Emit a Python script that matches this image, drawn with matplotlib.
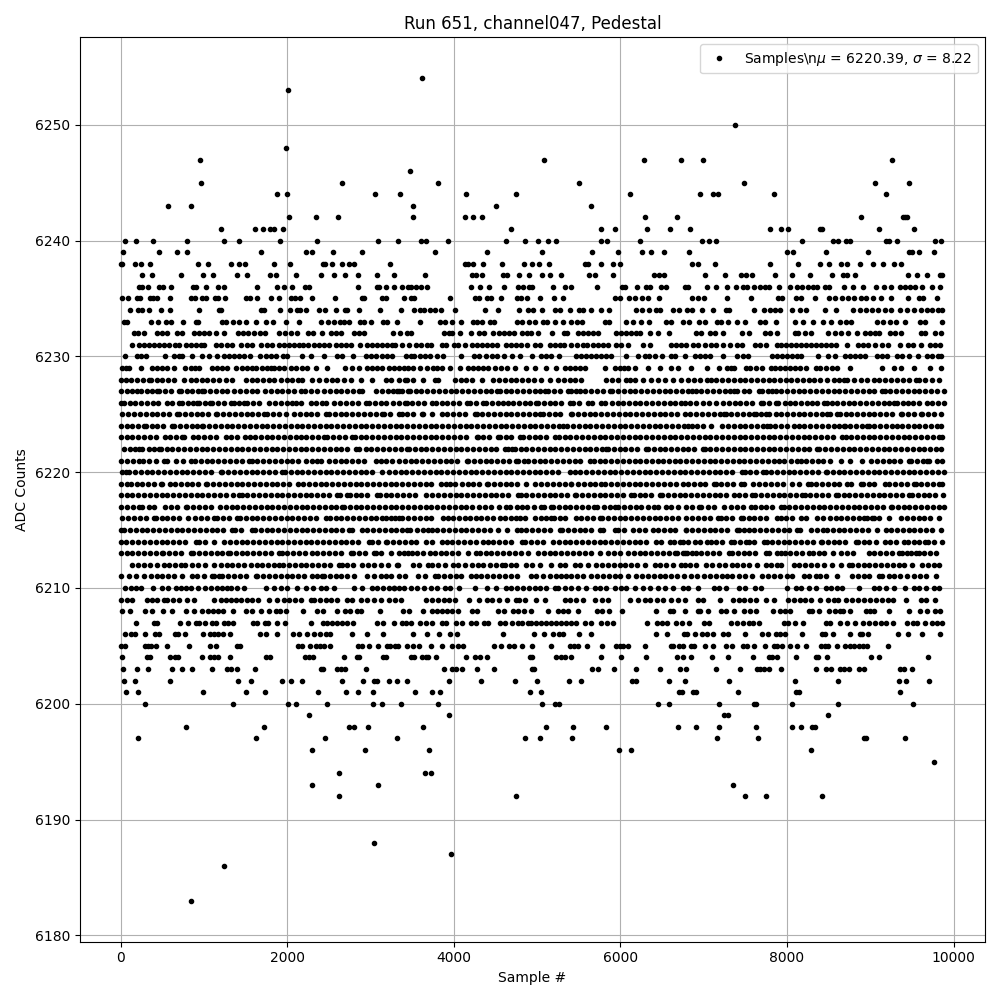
import matplotlib
matplotlib.use("Agg")
import matplotlib.pyplot as plt

# sample numbers at each ADC level
s6254 = [3620]
s6253 = [2012]
s6250 = [7380]
s6248 = [1988]
s6247 = [956, 5088, 6288, 6732, 6996, 9264]
s6246 = [3470]
s6245 = [968, 2660, 3812, 5508, 7488, 9060, 9468]
s6244 = [1880, 2000, 3056, 3356, 4148, 4748, 6120, 6960, 7116, 7176, 7848, 9192]
s6243 = [572, 848, 3512, 4508, 5652]
s6242 = [2024, 2348, 2612, 3512, 4136, 4232, 4340, 6300, 6684, 8892, 9396, 9420, 9444]
s6241 = [1208, 1616, 1712, 1796, 1836, 1952, 4688, 5772, 5940, 6324, 6600, 6840, 7800, 7932, 8016, 8400, 8424, 9108, 9528]
s6240 = [56, 188, 392, 800, 1244, 1424, 1916, 2360, 3092, 3332, 3608, 3668, 3932, 4628, 4856, 5016, 5136, 5232, 5772, 5844, 6240, 6984, 7068, 7152, 8184, 8556, 8616, 8712, 8760, 9192, 9228, 9324, 9780, 9852]
s6239 = [32, 464, 680, 800, 1688, 2228, 2300, 2552, 2900, 3776, 4400, 5064, 5664, 5976, 6264, 6372, 6528, 6828, 8004, 8076, 8472, 8976, 9468, 9504, 9588, 9768]
s6238 = [0, 12, 176, 248, 356, 932, 1052, 1328, 1424, 1496, 1844, 2036, 2432, 2456, 2540, 2660, 2744, 2804, 3236, 4136, 4172, 4232, 4352, 4580, 4844, 4944, 5028, 5148, 5580, 5616, 5772, 5916, 6000, 6864, 6936, 7140, 7800, 8136, 8400, 8508, 8652, 8724, 8880, 9036, 9156, 9288, 9372]
s6237 = [260, 380, 728, 992, 1112, 1400, 1520, 1796, 1868, 2108, 2408, 2564, 2696, 2852, 3080, 3284, 3656, 4220, 4260, 4340, 4592, 4640, 4784, 4904, 5064, 5160, 5292, 5628, 5700, 5916, 6408, 6468, 6528, 7020, 7260, 7452, 7512, 7584, 7860, 8064, 8280, 8544, 8676, 8724, 8820, 9456, 9564, 9684, 9840, 9864]
s6236 = [224, 260, 332, 464, 512, 608, 872, 908, 1028, 1172, 1244, 1640, 1880, 1964, 2060, 2216, 2264, 2852, 3080, 3104, 3188, 3284, 3380, 3452, 3488, 3548, 3608, 3680, 4208, 4316, 4424, 4604, 4772, 4832, 4904, 4940, 5196, 5340, 5412, 5724, 6024, 6060, 6204, 6312, 6360, 6492, 6552, 6780, 6816, 7044, 7152, 7284, 7392, 7476, 7524, 7608, 7680, 7740, 7788, 7908, 8040, 8124, 8184, 8256, 8316, 8364, 8460, 8508, 8688, 8796, 8916, 9072, 9168, 9252, 9360, 9420, 9480, 9540, 9624, 9744, 9840]
s6235 = [20, 92, 200, 236, 356, 392, 440, 596, 848, 896, 980, 1028, 1136, 1172, 1256, 1508, 1556, 1640, 1808, 1904, 2048, 2096, 2156, 2300, 2576, 2900, 2924, 3140, 3188, 3404, 3488, 3524, 3956, 4256, 4304, 4400, 4448, 4568, 4760, 4808, 4880, 5040, 5208, 5316, 5940, 6000, 6108, 6180, 6264, 6336, 6468, 6864, 6936, 7008, 7280, 7572, 7896, 7944, 8112, 8172, 8340, 8508, 8580, 8664, 8736, 8808, 8892, 8952, 9036, 9132, 9252, 9456, 9588, 9636, 9804]
s6234 = [116, 212, 260, 344, 488, 596, 944, 1184, 1208, 1688, 1724, 1916, 2036, 2120, 2156, 2228, 2384, 2456, 2588, 2696, 2720, 2864, 3116, 3368, 3524, 3596, 3644, 3716, 3776, 3848, 4016, 4376, 4532, 4784, 4892, 4956, 5064, 5220, 5280, 5400, 5508, 5556, 5652, 5772, 5868, 6192, 6264, 6348, 6432, 6480, 6636, 6708, 6804, 6864, 6984, 7116, 7272, 7308, 7608, 7728, 7800, 7860, 7920, 8064, 8160, 8232, 8460, 8592, 8796, 8880, 8952, 9024, 9096, 9180, 9252, 9360, 9444, 9528, 9612, 9684, 9744, 9816, 9864]
s6233 = [44, 80, 368, 452, 548, 608, 752, 908, 932, 1220, 1268, 1352, 1424, 1508, 1628, 1748, 1832, 1988, 2144, 2408, 2492, 2564, 2636, 2684, 2744, 2876, 2924, 3008, 3152, 3200, 3320, 3592, 3836, 3896, 3980, 4088, 4228, 4280, 4340, 4436, 4480, 4760, 4820, 4908, 4976, 5076, 5124, 5220, 5316, 5412, 5484, 5544, 5820, 5868, 6072, 6156, 6252, 6348, 6552, 6612, 6756, 6828, 6948, 7020, 7164, 7212, 7296, 7404, 7500, 7680, 7740, 7872, 8100, 8196, 8316, 8436, 8532, 8640, 8712, 8772, 9084, 9156, 9240, 9312, 9420, 9600, 9660, 9864]
s6232 = [160, 212, 276, 440, 500, 560, 680, 732, 880, 940, 1000, 1060, 1148, 1244, 1412, 1468, 1532, 1596, 1668, 1732, 1900, 1968, 2040, 2120, 2252, 2308, 2420, 2520, 2580, 2640, 2800, 2860, 2920, 3272, 3356, 3440, 3480, 3880, 3940, 3980, 4076, 4208, 4300, 4360, 4472, 4540, 4600, 4660, 4720, 4820, 4880, 4932, 5016, 5180, 5324, 5364, 5492, 5552, 5612, 5672, 5732, 5952, 6012, 6072, 6132, 6192, 6232, 6352, 6452, 6588, 6912, 6972, 7072, 7132, 7228, 7464, 7544, 7732, 7792, 7884, 8092, 8132, 8220, 8292, 8492, 8572, 8652, 8732, 8844, 8932, 8992, 9052, 9100, 9232, 9292, 9364, 9612, 9652, 9780, 9852]
s6231 = [132, 220, 280, 340, 400, 460, 520, 580, 652, 700, 788, 840, 900, 960, 1000, 1148, 1200, 1280, 1340, 1440, 1520, 1580, 1680, 1760, 1820, 1900, 1960, 2020, 2080, 2140, 2188, 2252, 2320, 2380, 2440, 2500, 2580, 2640, 2700, 2760, 2868, 2960, 3020, 3080, 3140, 3200, 3260, 3296, 3380, 3460, 3540, 3600, 3680, 3728, 3860, 3900, 4000, 4052, 4128, 4220, 4280, 4340, 4400, 4460, 4520, 4620, 4680, 4740, 4800, 4880, 4972, 5032, 5152, 5212, 5272, 5324, 5412, 5480, 5552, 5604, 5672, 5732, 5792, 5852, 5952, 6012, 6092, 6272, 6352, 6604, 6672, 6732, 6792, 6872, 6932, 7012, 7092, 7152, 7232, 7312, 7404, 7464, 7620, 7680, 7752, 7884, 7932, 7992, 8052, 8112, 8172, 8232, 8292, 8352, 8412, 8472, 8532, 8592, 8724, 8852, 8912, 8972, 9052, 9144, 9212, 9360, 9452, 9512, 9612, 9712, 9772, 9840]
s6230 = [56, 200, 240, 300, 528, 640, 700, 740, 860, 980, 1064, 1160, 1240, 1300, 1360, 1420, 1480, 1552, 1676, 1740, 1800, 1868, 1952, 2000, 2180, 2288, 2440, 2600, 2660, 2788, 2940, 3000, 3060, 3140, 3200, 3260, 3420, 3480, 3520, 3592, 3652, 3708, 3800, 3872, 4088, 4244, 4300, 4380, 4460, 4520, 4600, 4700, 4788, 4940, 5052, 5112, 5172, 5260, 5472, 5532, 5592, 5652, 5712, 5772, 5832, 5892, 6072, 6216, 6300, 6348, 6420, 6504, 6612, 6660, 6780, 6892, 6952, 7012, 7072, 7236, 7404, 7472, 7532, 7824, 7884, 7944, 8004, 8064, 8124, 8172, 8376, 8496, 8580, 8700, 8760, 8820, 8880, 8940, 9084, 9144, 9204, 9324, 9384, 9468, 9576, 9684, 9744, 9816, 9852]
s6229 = [20, 60, 100, 240, 380, 440, 500, 560, 640, 772, 840, 890, 940, 1100, 1160, 1220, 1280, 1388, 1450, 1510, 1570, 1620, 1700, 1750, 1800, 1840, 1900, 1960, 2040, 2100, 2170, 2240, 2348, 2480, 2688, 2780, 2860, 2960, 3020, 3080, 3140, 3220, 3280, 3340, 3400, 3452, 3512, 3592, 3672, 3752, 3800, 3852, 3952, 4072, 4172, 4230, 4292, 4352, 4412, 4492, 4560, 4632, 4732, 4872, 4972, 5112, 5224, 5332, 5390, 5450, 5510, 5572, 5812, 5932, 5990, 6040, 6092, 6172, 6332, 6472, 6612, 6692, 6844, 7036, 7184, 7284, 7324, 7364, 7504, 7560, 7624, 7696, 7804, 7860, 7920, 7980, 8040, 8100, 8160, 8224, 8344, 8400, 8470, 8540, 8604, 8756, 9144, 9284, 9364, 9524, 9712, 9844]
s6228 = [0, 60, 125, 190, 270, 340, 360, 430, 500, 570, 640, 760, 840, 905, 975, 1040, 1110, 1180, 1260, 1340, 1500, 1570, 1640, 1710, 1780, 1840, 1920, 1990, 2060, 2125, 2180, 2300, 2380, 2460, 2540, 2600, 2680, 2760, 2880, 3020, 3180, 3250, 3340, 3410, 3432, 3512, 3632, 3772, 3812, 4012, 4080, 4150, 4212, 4332, 4472, 4540, 4610, 4680, 4750, 4820, 4890, 4960, 5052, 5152, 5252, 5320, 5390, 5460, 5532, 5832, 5900, 5972, 6072, 6120, 6172, 6272, 6372, 6450, 6532, 6632, 6732, 6812, 6884, 6960, 7044, 7084, 7150, 7220, 7290, 7360, 7430, 7500, 7570, 7640, 7710, 7780, 7850, 7920, 7985, 8044, 8124, 8190, 8260, 8330, 8400, 8480, 8564, 8624, 8684, 8724, 8800, 8884, 8964, 9044, 9110, 9180, 9250, 9320, 9390, 9470, 9544, 9584, 9660, 9740, 9824]
s6227 = [0, 70, 135, 200, 240, 310, 375, 440, 460, 530, 600, 700, 720, 790, 860, 925, 980, 1000, 1070, 1140, 1210, 1280, 1360, 1430, 1500, 1580, 1640, 1732, 1800, 1880, 1940, 2010, 2085, 2160, 2212, 2290, 2360, 2440, 2510, 2580, 2650, 2720, 2790, 2860, 2900, 3060, 3140, 3210, 3270, 3340, 3312, 3380, 3452, 3472, 3540, 3610, 3680, 3750, 3820, 3890, 3960, 4030, 4100, 4170, 4240, 4310, 4380, 4450, 4512, 4552, 4620, 4690, 4760, 4830, 4900, 4970, 5040, 5092, 5132, 5200, 5270, 5372, 5412, 5472, 5512, 5580, 5650, 5720, 5790, 5872, 5900, 5970, 6040, 6110, 6180, 6250, 6320, 6390, 6460, 6530, 6600, 6670, 6740, 6812, 6864, 6904, 6970, 7040, 7110, 7180, 7250, 7320, 7364, 7404, 7480, 7550, 7664, 7704, 7770, 7824, 7864, 7930, 8000, 8070, 8140, 8210, 8280, 8350, 8420, 8490, 8560, 8630, 8700, 8770, 8840, 8910, 8980, 9050, 9144, 9172, 9240, 9310, 9380, 9450, 9520, 9590, 9660, 9730, 9800, 9884]
s6226 = [0, 40, 110, 175, 245, 315, 385, 452, 560, 620, 700, 740, 810, 870, 920, 940, 1010, 1068, 1100, 1170, 1240, 1320, 1360, 1420, 1480, 1520, 1590, 1660, 1780, 1850, 1920, 1990, 2060, 2100, 2160, 2280, 2340, 2420, 2468, 2560, 2630, 2700, 2780, 2852, 2940, 2980, 3050, 3120, 3190, 3270, 3340, 3412, 3432, 3500, 3570, 3640, 3732, 3780, 3852, 3920, 3990, 4060, 4152, 4192, 4260, 4352, 4380, 4460, 4532, 4592, 4644, 4710, 4780, 4850, 4920, 4992, 5012, 5080, 5150, 5220, 5290, 5392, 5432, 5500, 5612, 5660, 5772, 5812, 5900, 5972, 6032, 6100, 6170, 6240, 6310, 6380, 6450, 6520, 6590, 6660, 6732, 6772, 6840, 6912, 6990, 7064, 7144, 7232, 7304, 7370, 7440, 7510, 7580, 7684, 7716, 7790, 7864, 7896, 7976, 8036, 8100, 8170, 8240, 8304, 8364, 8444, 8484, 8544, 8604, 8670, 8740, 8810, 8880, 8950, 9020, 9090, 9160, 9230, 9284, 9316, 9390, 9450, 9516, 9584, 9676, 9740, 9810, 9884]
s6225 = [20, 92, 160, 230, 300, 370, 440, 510, 580, 680, 700, 770, 840, 910, 980, 1050, 1140, 1160, 1230, 1300, 1370, 1440, 1510, 1580, 1650, 1720, 1760, 1830, 1900, 1980, 2080, 2150, 2220, 2290, 2360, 2460, 2500, 2570, 2640, 2710, 2780, 2850, 2920, 2990, 3060, 3140, 3160, 3230, 3340, 3372, 3440, 3510, 3612, 3632, 3732, 3852, 3920, 3990, 4060, 4130, 4252, 4272, 4340, 4410, 4480, 4550, 4620, 4690, 4760, 4830, 4900, 4970, 5032, 5072, 5140, 5210, 5280, 5412, 5420, 5490, 5560, 5630, 5700, 5770, 5840, 5910, 5980, 6050, 6120, 6190, 6260, 6330, 6400, 6470, 6540, 6610, 6680, 6772, 6840, 6910, 6980, 7050, 7120, 7190, 7244, 7264, 7330, 7400, 7470, 7540, 7604, 7624, 7690, 7744, 7784, 7864, 7930, 8000, 8070, 8140, 8210, 8280, 8350, 8420, 8484, 8516, 8604, 8636, 8704, 8770, 8840, 8910, 8980, 9050, 9120, 9190, 9260, 9364, 9384, 9450, 9520, 9604, 9624, 9690, 9760, 9844]
s6224 = [0, 70, 140, 210, 280, 300, 370, 440, 510, 620, 640, 710, 780, 850, 920, 980, 990, 1060, 1130, 1200, 1270, 1340, 1410, 1480, 1550, 1620, 1690, 1760, 1830, 1900, 1970, 2040, 2110, 2180, 2250, 2320, 2390, 2460, 2530, 2600, 2670, 2740, 2810, 2880, 2950, 3020, 3090, 3160, 3230, 3300, 3370, 3440, 3510, 3580, 3650, 3720, 3790, 3860, 3930, 4000, 4070, 4140, 4210, 4280, 4350, 4420, 4490, 4560, 4630, 4700, 4770, 4840, 4910, 4980, 5050, 5120, 5190, 5260, 5312, 5364, 5430, 5500, 5570, 5640, 5710, 5780, 5850, 5920, 5990, 6060, 6130, 6200, 6270, 6340, 6410, 6480, 6550, 6620, 6690, 6760, 6812, 6860, 6924, 6996, 7084, 7224, 7290, 7360, 7430, 7500, 7570, 7640, 7710, 7764, 7796, 7860, 7930, 8000, 8084, 8144, 8210, 8280, 8350, 8420, 8490, 8560, 8630, 8684, 8696, 8760, 8830, 8900, 8964, 8984, 9050, 9120, 9190, 9264, 9316, 9380, 9450, 9520, 9590, 9660, 9730, 9800, 9844]
s6223 = [0, 70, 140, 210, 280, 350, 420, 532, 588, 660, 740, 760, 868, 932, 1000, 1070, 1140, 1260, 1320, 1400, 1492, 1548, 1612, 1680, 1750, 1820, 1890, 1960, 2030, 2100, 2160, 2228, 2300, 2370, 2440, 2480, 2550, 2620, 2690, 2780, 2812, 2880, 2950, 3020, 3090, 3160, 3230, 3300, 3370, 3440, 3510, 3580, 3650, 3720, 3790, 3860, 3930, 4000, 4070, 4140, 4272, 4284, 4350, 4420, 4532, 4552, 4620, 4690, 4792, 4832, 4900, 4970, 5040, 5110, 5212, 5260, 5330, 5400, 5470, 5540, 5610, 5680, 5750, 5820, 5890, 5960, 6030, 6100, 6170, 6240, 6310, 6380, 6450, 6520, 6590, 6660, 6730, 6800, 6870, 6940, 7010, 7080, 7150, 7220, 7290, 7360, 7430, 7500, 7570, 7640, 7710, 7780, 7850, 7920, 7990, 8060, 8130, 8200, 8270, 8340, 8410, 8480, 8550, 8664, 8704, 8770, 8840, 8910, 8980, 9050, 9120, 9190, 9260, 9330, 9400, 9470, 9540, 9610, 9680, 9750, 9820, 9864]
s6222 = [40, 110, 170, 220, 260, 340, 400, 460, 484, 550, 620, 690, 760, 830, 900, 970, 1040, 1110, 1180, 1250, 1320, 1390, 1460, 1530, 1600, 1670, 1740, 1810, 1880, 1950, 2020, 2090, 2160, 2230, 2300, 2370, 2440, 2510, 2580, 2650, 2720, 2820, 2860, 2940, 3010, 3080, 3150, 3220, 3290, 3360, 3432, 3460, 3530, 3600, 3670, 3740, 3810, 3880, 3950, 4020, 4090, 4160, 4230, 4300, 4370, 4440, 4510, 4612, 4652, 4700, 4732, 4800, 4870, 4940, 5010, 5080, 5150, 5220, 5290, 5360, 5430, 5500, 5570, 5640, 5710, 5780, 5832, 5852, 5920, 5990, 6060, 6130, 6200, 6312, 6332, 6400, 6470, 6540, 6610, 6680, 6750, 6812, 6880, 6996, 7012, 7080, 7150, 7220, 7290, 7360, 7430, 7500, 7570, 7640, 7710, 7780, 7850, 7920, 7990, 8060, 8130, 8200, 8270, 8364, 8388, 8460, 8530, 8600, 8670, 8740, 8810, 8880, 8950, 9020, 9090, 9160, 9230, 9300, 9370, 9440, 9510, 9580, 9650, 9720, 9790, 9844]
s6221 = [0, 70, 150, 220, 268, 340, 420, 520, 552, 668, 750, 840, 892, 960, 1030, 1100, 1170, 1240, 1310, 1380, 1450, 1540, 1572, 1640, 1710, 1780, 1850, 1920, 1990, 2060, 2130, 2220, 2300, 2360, 2400, 2500, 2570, 2640, 2710, 2780, 2850, 2920, 3060, 3120, 3190, 3260, 3340, 3410, 3480, 3550, 3620, 3690, 3760, 3830, 3900, 3970, 4040, 4152, 4172, 4240, 4310, 4380, 4450, 4520, 4590, 4660, 4740, 4764, 4844, 4892, 4960, 5030, 5100, 5170, 5240, 5310, 5380, 5450, 5520, 5632, 5684, 5750, 5820, 5890, 5960, 6030, 6100, 6170, 6240, 6310, 6380, 6452, 6512, 6580, 6650, 6720, 6790, 6860, 6930, 7000, 7070, 7140, 7210, 7280, 7350, 7420, 7490, 7560, 7630, 7700, 7770, 7840, 7900, 7964, 8044, 8116, 8164, 8230, 8300, 8370, 8436, 8516, 8644, 8756, 8904, 9012, 9080, 9150, 9220, 9290, 9360, 9464, 9492, 9560, 9630, 9684, 9704, 9796, 9856]
s6220 = [20, 60, 100, 170, 240, 310, 380, 450, 520, 590, 660, 730, 800, 870, 940, 1010, 1080, 1200, 1220, 1290, 1360, 1430, 1500, 1570, 1640, 1710, 1780, 1850, 1940, 1972, 2040, 2110, 2180, 2250, 2320, 2390, 2460, 2530, 2600, 2670, 2740, 2810, 2880, 2950, 3020, 3140, 3220, 3290, 3360, 3430, 3500, 3570, 3640, 3710, 3780, 3850, 3920, 3990, 4060, 4130, 4200, 4270, 4340, 4410, 4480, 4550, 4620, 4690, 4760, 4830, 4900, 4970, 5040, 5110, 5180, 5250, 5392, 5452, 5520, 5590, 5660, 5730, 5800, 5870, 5940, 6010, 6080, 6150, 6220, 6290, 6360, 6430, 6500, 6570, 6640, 6710, 6780, 6850, 6920, 6990, 7060, 7130, 7200, 7270, 7340, 7464, 7492, 7560, 7630, 7716, 7744, 7810, 7880, 7950, 8020, 8090, 8160, 8230, 8300, 8370, 8464, 8484, 8550, 8620, 8690, 8760, 8830, 8900, 8970, 9040, 9110, 9180, 9250, 9320, 9390, 9460, 9530, 9600, 9670, 9740, 9810, 9884]
s6219 = [0, 80, 120, 190, 260, 330, 400, 480, 500, 588, 652, 720, 790, 860, 930, 1020, 1040, 1110, 1180, 1250, 1320, 1390, 1460, 1530, 1600, 1670, 1740, 1810, 1880, 1950, 2020, 2132, 2188, 2260, 2330, 2400, 2470, 2540, 2610, 2680, 2750, 2820, 2890, 2960, 3030, 3100, 3170, 3240, 3310, 3380, 3450, 3520, 3590, 3660, 3730, 3844, 3900, 3952, 4012, 4092, 4164, 4230, 4300, 4392, 4412, 4480, 4550, 4620, 4690, 4760, 4872, 4980, 5050, 5120, 5190, 5260, 5330, 5404, 5412, 5492, 5560, 5630, 5700, 5772, 5820, 5890, 5960, 6030, 6100, 6170, 6240, 6310, 6380, 6450, 6520, 6590, 6672, 6752, 6812, 6880, 6950, 7020, 7124, 7144, 7210, 7280, 7350, 7444, 7484, 7596, 7668, 7740, 7810, 7880, 7950, 8064, 8144, 8252, 8284, 8350, 8420, 8490, 8560, 8630, 8724, 8772, 8884, 8908, 8980, 9050, 9172, 9228, 9300, 9370, 9440, 9524, 9544, 9610, 9680, 9750, 9820, 9864]
s6218 = [0, 70, 140, 210, 280, 350, 420, 490, 560, 630, 700, 770, 840, 910, 980, 1050, 1120, 1190, 1260, 1348, 1420, 1452, 1520, 1590, 1660, 1730, 1800, 1870, 1940, 2010, 2080, 2150, 2220, 2290, 2360, 2430, 2500, 2600, 2628, 2720, 2748, 2820, 2890, 2960, 3080, 3108, 3180, 3250, 3320, 3390, 3460, 3530, 3660, 3740, 3810, 3880, 3950, 4020, 4090, 4160, 4230, 4300, 4370, 4440, 4510, 4580, 4650, 4772, 4800, 4870, 4940, 5010, 5080, 5150, 5220, 5290, 5360, 5452, 5472, 5540, 5610, 5680, 5750, 5820, 5890, 5960, 6030, 6132, 6164, 6230, 6300, 6370, 6472, 6500, 6570, 6640, 6710, 6780, 6850, 6920, 6990, 7060, 7130, 7200, 7270, 7364, 7428, 7500, 7584, 7620, 7690, 7760, 7830, 7900, 7970, 8040, 8110, 8184, 8212, 8280, 8350, 8420, 8490, 8584, 8616, 8680, 8750, 8820, 8890, 8960, 9030, 9100, 9170, 9240, 9310, 9380, 9464, 9496, 9570, 9640, 9710, 9780, 9876]
s6217 = [0, 70, 150, 220, 252, 340, 400, 532, 600, 670, 788, 800, 870, 940, 1010, 1080, 1188, 1260, 1330, 1400, 1470, 1540, 1610, 1680, 1750, 1820, 1890, 1960, 2030, 2100, 2170, 2240, 2310, 2380, 2450, 2520, 2590, 2652, 2680, 2750, 2820, 2890, 2960, 3030, 3100, 3170, 3240, 3310, 3380, 3450, 3520, 3590, 3660, 3730, 3800, 3870, 3940, 4010, 4080, 4150, 4220, 4300, 4372, 4444, 4540, 4620, 4672, 4752, 4820, 4884, 4960, 5052, 5084, 5172, 5192, 5260, 5330, 5400, 5470, 5540, 5610, 5684, 5724, 5800, 5870, 5932, 5972, 6040, 6112, 6192, 6252, 6332, 6400, 6452, 6552, 6612, 6692, 6792, 6860, 6944, 6972, 7050, 7120, 7244, 7332, 7400, 7470, 7572, 7612, 7684, 7750, 7820, 7924, 7964, 8030, 8100, 8170, 8240, 8310, 8380, 8450, 8520, 8590, 8660, 8730, 8800, 8870, 8940, 9010, 9080, 9150, 9244, 9264, 9330, 9400, 9470, 9540, 9610, 9680, 9750, 9820, 9884]
s6216 = [20, 90, 160, 230, 300, 400, 420, 490, 560, 630, 700, 812, 892, 960, 1040, 1120, 1160, 1230, 1300, 1400, 1428, 1500, 1570, 1640, 1710, 1780, 1850, 1920, 1990, 2060, 2130, 2200, 2270, 2340, 2460, 2508, 2580, 2650, 2720, 2790, 2860, 2930, 3000, 3070, 3140, 3180, 3250, 3340, 3292, 3380, 3450, 3520, 3590, 3660, 3730, 3872, 3924, 3990, 4060, 4130, 4192, 4260, 4330, 4400, 4470, 4552, 4612, 4684, 4740, 4792, 4860, 4972, 5044, 5110, 5172, 5204, 5270, 5340, 5472, 5524, 5600, 5670, 5752, 5780, 5850, 5920, 5990, 6060, 6130, 6200, 6270, 6340, 6410, 6480, 6550, 6620, 6690, 6792, 6860, 6932, 7000, 7070, 7172, 7204, 7264, 7340, 7444, 7476, 7540, 7610, 7680, 7750, 7884, 7924, 7990, 8060, 8164, 8224, 8356, 8430, 8516, 8584, 8650, 8720, 8790, 8860, 8924, 8956, 9024, 9044, 9110, 9224, 9372, 9440, 9510, 9580, 9650, 9720, 9824]
s6215 = [0, 40, 110, 180, 250, 320, 390, 460, 530, 600, 670, 740, 810, 880, 950, 1020, 1090, 1160, 1230, 1340, 1372, 1440, 1580, 1612, 1680, 1750, 1820, 1890, 1960, 2030, 2100, 2170, 2240, 2310, 2380, 2450, 2520, 2590, 2660, 2740, 2772, 2900, 2960, 3030, 3100, 3170, 3240, 3310, 3380, 3432, 3472, 3552, 3632, 3692, 3732, 3800, 3870, 3940, 4010, 4080, 4150, 4220, 4290, 4360, 4430, 4532, 4632, 4752, 4804, 4870, 4940, 5010, 5080, 5150, 5272, 5300, 5370, 5440, 5510, 5580, 5650, 5752, 5792, 5932, 5972, 6040, 6152, 6220, 6290, 6392, 6452, 6520, 6590, 6660, 6792, 6784, 6860, 6930, 7000, 7070, 7140, 7210, 7280, 7404, 7424, 7484, 7544, 7610, 7680, 7750, 7820, 7890, 7960, 8030, 8124, 8156, 8284, 8356, 8436, 8484, 8550, 8620, 8690, 8760, 8830, 8900, 8970, 9084, 9184, 9250, 9320, 9390, 9460, 9530, 9600, 9670, 9740, 9844]
s6214 = [0, 68, 140, 210, 280, 350, 420, 490, 560, 630, 700, 770, 900, 940, 1010, 1120, 1240, 1310, 1380, 1450, 1520, 1590, 1660, 1730, 1800, 1870, 1940, 2010, 2080, 2150, 2220, 2290, 2360, 2430, 2500, 2570, 2640, 2710, 2780, 2850, 2980, 3020, 3090, 3180, 3200, 3270, 3340, 3410, 3480, 3550, 3660, 3732, 3852, 3912, 3980, 4050, 4120, 4190, 4260, 4352, 4404, 4472, 4540, 4610, 4680, 4812, 4860, 4930, 5000, 5070, 5192, 5260, 5332, 5400, 5470, 5540, 5610, 5680, 5750, 5820, 5890, 5960, 6030, 6100, 6170, 6240, 6310, 6432, 6492, 6592, 6644, 6712, 6752, 6812, 6890, 6956, 7036, 7084, 7150, 7220, 7324, 7364, 7430, 7504, 7544, 7610, 7724, 7756, 7820, 7890, 7960, 8030, 8100, 8170, 8240, 8310, 8404, 8424, 8490, 8560, 8630, 8700, 8824, 8852, 8920, 8990, 9064, 9172, 9240, 9310, 9404, 9452, 9520, 9590, 9652, 9692, 9760, 9864]
s6213 = [0, 70, 140, 210, 280, 350, 420, 492, 508, 580, 650, 720, 840, 868, 940, 1010, 1080, 1150, 1220, 1292, 1308, 1380, 1450, 1520, 1590, 1660, 1730, 1800, 1900, 1932, 2000, 2070, 2140, 2210, 2300, 2360, 2430, 2500, 2570, 2640, 2760, 2788, 2860, 2930, 3040, 3060, 3130, 3240, 3340, 3404, 3452, 3492, 3560, 3630, 3712, 3772, 3840, 3910, 3980, 4050, 4172, 4260, 4312, 4380, 4450, 4520, 4590, 4660, 4730, 4800, 4892, 5012, 5080, 5150, 5220, 5290, 5360, 5430, 5500, 5572, 5652, 5752, 5852, 5920, 5992, 6092, 6160, 6230, 6300, 6370, 6440, 6510, 6580, 6650, 6772, 6684, 6756, 6796, 6864, 6904, 6970, 7040, 7110, 7180, 7304, 7344, 7410, 7480, 7550, 7620, 7744, 7784, 7876, 7924, 7972, 8040, 8110, 8180, 8264, 8316, 8380, 8444, 8548, 8644, 8724, 8796, 8984, 9050, 9120, 9190, 9260, 9344, 9384, 9444, 9492, 9544, 9584, 9650, 9720, 9784]
s6212 = [140, 210, 280, 350, 440, 520, 580, 650, 720, 772, 850, 930, 1012, 1120, 1200, 1270, 1340, 1410, 1480, 1560, 1630, 1700, 1770, 1840, 1900, 1948, 2020, 2090, 2160, 2230, 2300, 2370, 2440, 2510, 2620, 2660, 2720, 2788, 2900, 2970, 3040, 3120, 3212, 3320, 3332, 3512, 3580, 3692, 3732, 3810, 3892, 3984, 4052, 4130, 4212, 4284, 4352, 4432, 4500, 4572, 4612, 4680, 4750, 4872, 4940, 5032, 5172, 5272, 5340, 5452, 5512, 5612, 5712, 5780, 5850, 5920, 5990, 6060, 6130, 6200, 6292, 6412, 6480, 6550, 6632, 6732, 6772, 6840, 6910, 7024, 7104, 7184, 7260, 7344, 7404, 7470, 7540, 7644, 7744, 7810, 7884, 7932, 8084, 8150, 8220, 8290, 8360, 8444, 8544, 8644, 8744, 8784, 8850, 8920, 8990, 9060, 9130, 9200, 9270, 9344, 9404, 9504, 9624, 9690, 9760, 9824]
s6211 = [0, 100, 180, 280, 360, 430, 500, 570, 640, 740, 852, 920, 1000, 1092, 1120, 1180, 1220, 1290, 1360, 1430, 1500, 1620, 1640, 1710, 1780, 1850, 1920, 1990, 2060, 2130, 2200, 2300, 2360, 2412, 2440, 2510, 2580, 2650, 2720, 2800, 2960, 3040, 3120, 3180, 3250, 3340, 3412, 3572, 3650, 3772, 3812, 3880, 3950, 4020, 4090, 4204, 4260, 4330, 4400, 4470, 4540, 4610, 4680, 4752, 4924, 4992, 5072, 5150, 5232, 5292, 5352, 5412, 5480, 5552, 5652, 5720, 5790, 5860, 5930, 6000, 6092, 6192, 6260, 6330, 6400, 6470, 6540, 6610, 6680, 6764, 6844, 6924, 7004, 7070, 7144, 7224, 7284, 7344, 7424, 7500, 7584, 7704, 7772, 7844, 7920, 8004, 8064, 8204, 8264, 8344, 8400, 8464, 8596, 8784, 8850, 8920, 8990, 9104, 9144, 9224, 9284, 9360, 9444, 9524, 9600, 9670, 9784]
s6210 = [52, 120, 180, 240, 388, 500, 570, 660, 720, 780, 840, 932, 1012, 1080, 1160, 1220, 1280, 1320, 1400, 1480, 1740, 1840, 1920, 2000, 2120, 2220, 2312, 2400, 2460, 2560, 2800, 2900, 3012, 3080, 3150, 3220, 3280, 3340, 3284, 3400, 3484, 3552, 3644, 3720, 3800, 3892, 3952, 4060, 4252, 4392, 4500, 4620, 4690, 4760, 4830, 4900, 4970, 5040, 5110, 5212, 5252, 5332, 5412, 5492, 5592, 5692, 5760, 5830, 5932, 6012, 6072, 6172, 6272, 6352, 6452, 6540, 6632, 6752, 6816, 6932, 7124, 7184, 7264, 7424, 7500, 7612, 7684, 8004, 8104, 8164, 8264, 8344, 8464, 8530, 8604, 8664, 8864, 9044, 9110, 9184, 9284, 9412, 9524, 9584, 9664, 9764, 9824]
s6209 = [0, 70, 140, 320, 380, 440, 520, 560, 628, 700, 800, 880, 1120, 1200, 1260, 1320, 1380, 1440, 1510, 1580, 1650, 1780, 1880, 1960, 2020, 2090, 2160, 2280, 2320, 2390, 2460, 2530, 2600, 2720, 2780, 2880, 2960, 3040, 3120, 3220, 3290, 3360, 3660, 3740, 3810, 3880, 3940, 4012, 4180, 4300, 4400, 4460, 4540, 4640, 4740, 4780, 4860, 4992, 5092, 5332, 5400, 5470, 5552, 5692, 5780, 5852, 6112, 6212, 6292, 6352, 6444, 6512, 6612, 6690, 6772, 6932, 6992, 7192, 7352, 7420, 7490, 7560, 7630, 7752, 7844, 8012, 8080, 8152, 8212, 8292, 8392, 8492, 8560, 8612, 8712, 8780, 8850, 8920, 8992, 9072, 9140, 9210, 9272, 9432, 9612, 9672, 9780]
s6208 = [20, 116, 296, 380, 512, 620, 788, 884, 980, 1052, 1112, 1172, 1232, 1352, 1508, 1580, 1688, 1784, 1868, 1916, 1988, 2192, 2360, 2432, 2600, 2696, 2756, 2840, 2888, 3116, 3392, 3464, 3632, 3740, 3800, 3860, 3920, 3980, 4052, 4220, 4280, 4532, 4604, 4712, 4772, 4844, 4932, 5136, 5256, 5316, 5376, 5496, 5724, 5784, 5868, 6024, 6432, 6600, 6636, 6780, 6936, 6960, 7056, 7212, 7272, 7368, 7488, 7560, 7632, 7836, 7920, 7980, 8040, 8268, 8304, 8388, 8508, 8580, 8640, 8676, 8760, 8952, 9000, 9048, 9228, 9468, 9600, 9684, 9780, 9840]
s6207 = [188, 404, 440, 716, 812, 908, 944, 1016, 1100, 1148, 1244, 1292, 1352, 1592, 1640, 1736, 1772, 1880, 1976, 2288, 2432, 2480, 2540, 2600, 2660, 2720, 2792, 3080, 3152, 3284, 3380, 3428, 3488, 3596, 3668, 3740, 3860, 3908, 4028, 4100, 4208, 4268, 4364, 4412, 4556, 4616, 4700, 4772, 4820, 4892, 4932, 4992, 5052, 5112, 5172, 5232, 5292, 5352, 5412, 5472, 5580, 5652, 5772, 5844, 5916, 6324, 6444, 6504, 6564, 6672, 6744, 6828, 7008, 7068, 7332, 7404, 7476, 7548, 7596, 7668, 7968, 8016, 8100, 8196, 8472, 8520, 8640, 8724, 8820, 8916, 8988, 9060, 9132, 9192, 9276, 9444, 9516, 9564, 9660, 9744, 9804, 9864]
s6206 = [56, 128, 176, 296, 416, 464, 656, 692, 776, 992, 1076, 1124, 1172, 1232, 1316, 1676, 1748, 1880, 2072, 2144, 2240, 2324, 2396, 2468, 2516, 2780, 2960, 3152, 3512, 3680, 3824, 3956, 4040, 4592, 4968, 5088, 5196, 5268, 5316, 5508, 5652, 6432, 6564, 6768, 6804, 6900, 6984, 7044, 7116, 7236, 7296, 7500, 7704, 7776, 7872, 7920, 7980, 8184, 8424, 8460, 8556, 8760, 8880, 8904, 8976, 9336, 9456, 9624, 9840]
s6205 = [8, 56, 296, 332, 368, 428, 560, 824, 1076, 1148, 1400, 1436, 2132, 2180, 2276, 2348, 2396, 2444, 2516, 2852, 2900, 2984, 3092, 3200, 3236, 3296, 3332, 3440, 3512, 3584, 3728, 3860, 3980, 4052, 4112, 4484, 4568, 4664, 4724, 4820, 4944, 5172, 5400, 5448, 5496, 5604, 5784, 5952, 6000, 6036, 6096, 6300, 6612, 6636, 6708, 6756, 6852, 6888, 7020, 7116, 7272, 7344, 7476, 7524, 7608, 7740, 7848, 7884, 7944, 8040, 8124, 8232, 8412, 8460, 8496, 8604, 8700, 8760, 8808, 8868, 8916, 8964, 9216]
s6204 = [20, 320, 356, 596, 656, 692, 980, 1076, 1124, 1172, 1316, 1748, 1796, 2216, 2264, 2312, 2684, 2840, 2864, 3152, 3188, 3488, 3524, 3620, 3668, 3692, 3788, 4148, 4256, 4316, 4400, 4916, 4940, 5232, 5292, 5340, 5412, 5772, 6012, 6312, 6684, 6756, 6852, 7104, 7296, 7596, 7788, 7824, 7884, 8112, 8352, 8376, 8484, 9012, 9108, 9696]
s6203 = [32, 200, 332, 620, 740, 860, 1100, 1280, 1328, 1400, 1616, 2408, 2432, 2600, 2648, 2696, 2948, 3884, 3980, 4028, 4100, 4280, 4484, 4940, 4964, 5664, 5736, 5928, 6192, 6480, 6720, 6792, 7152, 7440, 7644, 7680, 7728, 7788, 7932, 8352, 8472, 8532, 8640, 8688, 8748, 8868, 8928, 9360, 9408, 9504]
s6202 = [44, 176, 596, 1412, 1568, 1940, 2048, 2180, 2660, 2912, 3044, 3080, 3224, 3320, 3440, 3944, 4328, 4736, 5004, 5388, 5532, 6144, 6192, 6588, 6780, 7308, 8100, 8616, 9348, 9432, 9708]
s6201 = [68, 212, 992, 1508, 1736, 2372, 2708, 2852, 3032, 3536, 3740, 3836, 4916, 5052, 6708, 6744, 6876, 6912, 7416, 8112, 8148, 9360]
s6200 = [296, 1352, 2012, 2108, 2480, 3032, 3140, 3368, 3812, 5064, 5220, 5268, 6456, 6588, 7188, 7608, 7632, 8064, 8616, 9516]
s6199 = [2264, 3944, 7248, 7296, 8496]
s6198 = [788, 1724, 2744, 2804, 2972, 3632, 5112, 5436, 5832, 6696, 6912, 7188, 7632, 8064, 8172, 8304, 8340]
s6197 = [212, 1628, 2456, 3320, 4856, 5040, 5424, 7164, 7656, 8920, 8948, 9420]
s6196 = [2300, 2936, 3704, 5988, 6132, 8292]
s6195 = [9768]
s6194 = [2624, 3656, 3728]
s6193 = [2300, 3092, 7356]
s6192 = [2624, 4748, 7500, 7752, 8424]
s6188 = [3044]
s6187 = [3968]
s6186 = [1244]
s6183 = [848]

levels = [6254, 6253, 6250, 6248, 6247, 6246, 6245, 6244, 6243, 6242, 6241, 6240, 6239, 6238, 6237, 6236, 6235, 6234, 6233, 6232, 6231, 6230, 6229, 6228, 6227, 6226, 6225, 6224, 6223, 6222, 6221, 6220, 6219, 6218, 6217, 6216, 6215, 6214, 6213, 6212, 6211, 6210, 6209, 6208, 6207, 6206, 6205, 6204, 6203, 6202, 6201, 6200, 6199, 6198, 6197, 6196, 6195, 6194, 6193, 6192, 6188, 6187, 6186, 6183]
rows = [s6254, s6253, s6250, s6248, s6247, s6246, s6245, s6244, s6243, s6242, s6241, s6240, s6239, s6238, s6237, s6236, s6235, s6234, s6233, s6232, s6231, s6230, s6229, s6228, s6227, s6226, s6225, s6224, s6223, s6222, s6221, s6220, s6219, s6218, s6217, s6216, s6215, s6214, s6213, s6212, s6211, s6210, s6209, s6208, s6207, s6206, s6205, s6204, s6203, s6202, s6201, s6200, s6199, s6198, s6197, s6196, s6195, s6194, s6193, s6192, s6188, s6187, s6186, s6183]

x = []
y = []
for level, row in zip(levels, rows):
    x += row
    y += [level] * len(row)

plt.figure(figsize=(10, 10))
plt.plot(x, y, 'k.', label='Samples\\n$\\mu$ = 6220.39, $\\sigma$ = 8.22')
plt.title('Run 651, channel047, Pedestal')
plt.xlabel('Sample #')
plt.ylabel('ADC Counts')
plt.grid(True)
plt.legend()
plt.tight_layout()
plt.savefig('out.png', dpi=100)
